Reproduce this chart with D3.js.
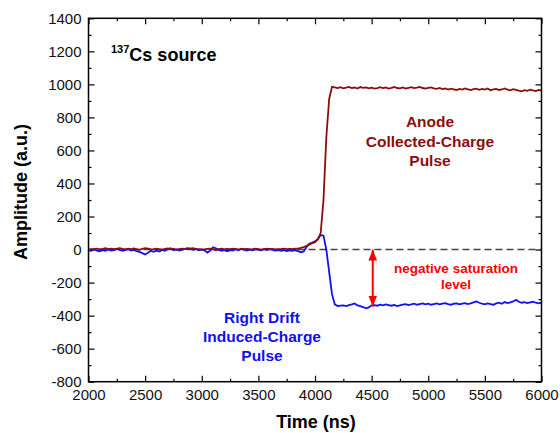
<!DOCTYPE html>
<html>
<head>
<meta charset="utf-8">
<script src="https://cdn.jsdelivr.net/npm/d3@7"></script>
<style>
  body{margin:0;background:#fff;}
  svg{display:block;font-family:"Liberation Sans",Arial,sans-serif;}
</style>
</head>
<body>
<svg id="chart"></svg>
<script>
let width = 560, height = 433;
const margin = {top:18.3, right:18.5, bottom:51.3, left:88.5};

// sampled every 25 ns from 2000 to 6000 ns
const tStart = 2000, tStep = 25;
const anode = [
  0,3,2,5,1,4,8,3,6,2, 5,9,4,1,6,3,7,2,-2,4, 8,5,1,3,6,2,0,4,7,3, 5,-3,2,6,4,1,5,8,3,2,
  -3,1,4,6,2,-4,3,5,1,4, 2,6,3,0,5,2,4,1,3,6, 2,-1,3,5,2,4,1,3,2,5, 3,4,2,5,6,10,15,22,30,38,
  45,62,100,300,680,910,985,
  982,978,983,976,980,985,977,981,975,984,979,982,976,
  980,974,978,983,977,981,975,979,984,978,976,981,974,979,983,977,980,985,978,975,
  979,982,976,973,978,971,975,969,974,970,966,972,968,975,970,965,971,974,967,972,
  968,975,964,970,973,966,969,975,968,964,971,967,962,958,965,961,968,963,959,966,
  962
];
const drift = [
  -5,-8,2,-6,-10,-4,-8,0,-6,-3, 4,-2,-8,-4,2,-6,-2,-10,-14,-22, -30,-20,-8,-14,-6,-12,-2,-8,2,8, -4,2,-6,-2,4,8,5,-2,3,-4,
  2,-6,-18,-6,14,8,-2,-8,-4,-10, -3,-6,2,-4,4,-2,-6,0,-4,3, -2,-5,2,-3,4,-2,-6,-4,-8,-3, -9,-5,-8,-3,-10,-16,-12,15,35,42,
  50,62,88,84,0,-135,-270,-332,-342,
  -340,-338,-342,-336,-332,-326,-338,-342,-348,-356,-350,
  -338,-336,-340,-334,-338,-332,-336,-340,-335,-342,-338,-334,-330,-336,-332,-328,-334,-330,-326,-332,
  -328,-334,-330,-326,-332,-328,-324,-330,-334,-328,-326,-332,-328,-324,-330,-326,-320,-314,-322,-328,
  -332,-326,-330,-334,-326,-322,-328,-318,-324,-320,-314,-304,-316,-322,-318,-324,-320,-316,-322,-326,
  -322
];
const xTicks = [2000,2500,3000,3500,4000,4500,5000,5500,6000];
const yTicks = [-800,-600,-400,-200,0,200,400,600,800,1000,1200,1400];
const satTime = 4510, satLevel = -345;

const times = d3.range(anode.length).map(i=>tStart+i*tStep);

const svg = d3.select('#chart').attr('width',width).attr('height',height);
const w = width-margin.left-margin.right, h = height-margin.top-margin.bottom;
const g = svg.append('g').attr('transform',`translate(${margin.left},${margin.top})`);

const x = d3.scaleLinear().domain([2000,6000]).range([0,w]);
const y = d3.scaleLinear().domain([-800,1400]).range([h,0]);

const xMinor = d3.range(2250,6000,500), yMinor = d3.range(-700,1400,200);
const fmt = d=>String(d); // plain hyphen for negatives, like the original

function axisStyle(sel){
  sel.select('.domain').remove();
  sel.selectAll('line').attr('stroke','#000').attr('stroke-width',1.2);
  sel.selectAll('text').attr('font-size',15).attr('fill','#111').attr('font-family','"Liberation Sans",Arial,sans-serif');
}
// major + minor ticks, all pointing inward
g.append('g').attr('transform',`translate(0,${h})`)
  .call(d3.axisBottom(x).tickValues(xTicks).tickSize(-6).tickPadding(8).tickFormat(fmt)).call(axisStyle);
g.append('g').attr('transform',`translate(0,${h})`)
  .call(d3.axisBottom(x).tickValues(xMinor).tickSize(-3).tickFormat('')).call(axisStyle);
g.append('g').call(d3.axisTop(x).tickValues(xTicks).tickSize(-6).tickFormat('')).call(axisStyle);
g.append('g').call(d3.axisTop(x).tickValues(xMinor).tickSize(-3).tickFormat('')).call(axisStyle);
g.append('g').call(d3.axisLeft(y).tickValues(yTicks).tickSize(-6).tickPadding(7).tickFormat(fmt)).call(axisStyle);
g.append('g').call(d3.axisLeft(y).tickValues(yMinor).tickSize(-3).tickFormat('')).call(axisStyle);
g.append('g').attr('transform',`translate(${w},0)`)
  .call(d3.axisRight(y).tickValues(yTicks).tickSize(-6).tickFormat('')).call(axisStyle);
g.append('g').attr('transform',`translate(${w},0)`)
  .call(d3.axisRight(y).tickValues(yMinor).tickSize(-3).tickFormat('')).call(axisStyle);

// zero line
g.append('line')
  .attr('x1',x(2000)).attr('x2',x(6000)).attr('y1',y(0)).attr('y2',y(0))
  .attr('stroke','#444').attr('stroke-width',1.5).attr('stroke-dasharray','7,4');

const line = vals => d3.line().x((d,i)=>x(times[i])).y(d=>y(d))(vals);
g.append('path').attr('d',line(drift)).attr('fill','none').attr('stroke','#1010f0').attr('stroke-width',1.8);
g.append('path').attr('d',line(anode)).attr('fill','none').attr('stroke','#8c0d0d').attr('stroke-width',1.8);

// saturation arrow
const defs = svg.append('defs');
defs.append('marker').attr('id','ah').attr('viewBox','0 0 10 8').attr('refX',10).attr('refY',4)
  .attr('markerWidth',5.5).attr('markerHeight',4.4).attr('orient','auto-start-reverse')
  .append('path').attr('d','M0,0L10,4L0,8z').attr('fill','#f00');
g.append('line')
  .attr('x1',x(satTime)).attr('x2',x(satTime)).attr('y1',y(0)).attr('y2',y(satLevel))
  .attr('stroke','#f00').attr('stroke-width',2)
  .attr('marker-start','url(#ah)').attr('marker-end','url(#ah)');

// frame
g.append('rect').attr('width',w).attr('height',h).attr('fill','none').attr('stroke','#000').attr('stroke-width',1.5);

// labels
svg.append('text').attr('x',316).attr('y',428).attr('text-anchor','middle')
  .attr('font-size',18).attr('font-weight','bold').text('Time (ns)');
svg.append('text').attr('transform','translate(27,192) rotate(-90)').attr('text-anchor','middle')
  .attr('font-size',18).attr('font-weight','bold').text('Amplitude (a.u.)');

const src = svg.append('text').attr('x',111).attr('y',61).attr('font-weight','bold');
src.append('tspan').attr('font-size',11).attr('dy',-8).text('137');
src.append('tspan').attr('font-size',18).attr('dy',8).text('Cs source');

function block(lines, cx, y0, dy, size, color){
  const t = svg.append('text').attr('text-anchor','middle').attr('font-weight','bold')
    .attr('font-size',size).attr('fill',color);
  lines.forEach((s,i)=>t.append('tspan').attr('x',cx).attr('y',y0+i*dy).text(s));
}
block(['Anode','Collected-Charge','Pulse'], 430, 127, 19.5, 15.5, '#8c0d0d');
block(['Right Drift','Induced-Charge','Pulse'], 262, 323, 19, 15.5, '#1010f0');
block(['negative saturation','level'], 456, 273, 16, 13.5, '#f00');
</script>
</body>
</html>
